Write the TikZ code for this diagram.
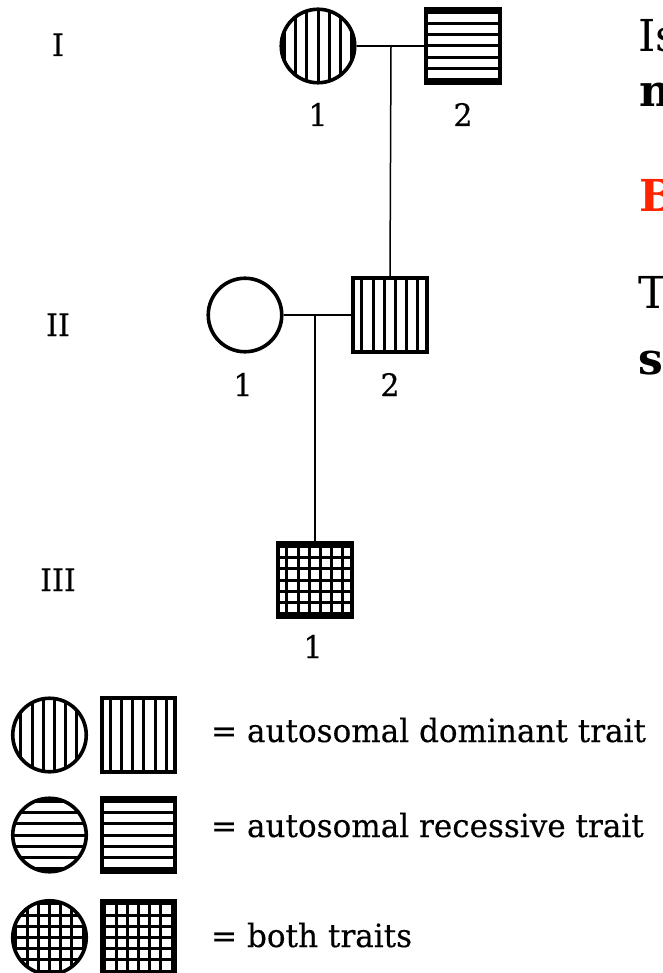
\documentclass[tikz,border=0pt]{standalone}
\usepackage{fontspec}
\setmainfont{DejaVu Serif}
\newfontfamily\pedfont{DejaVu Serif}[FakeBold=0.3, FakeStretch=0.97]
\definecolor{qred}{RGB}{255,36,0}
\newcommand\pedV[1]{\foreach \k in {-4,...,4}{\draw[line width=3pt] ([xshift=\k*11.2pt+#1pt]path picture bounding box.south) -- ([xshift=\k*11.2pt+#1pt]path picture bounding box.north);}}
\newcommand\pedH[1]{\foreach \k in {-4,...,4}{\draw[line width=3pt] ([yshift=\k*11.2pt+#1pt]path picture bounding box.west) -- ([yshift=\k*11.2pt+#1pt]path picture bounding box.east);}}
\tikzset{
  fem/.style={circle, draw, line width=3.6pt, minimum size=73.5pt, inner sep=0pt},
  mal/.style={rectangle, draw, line width=3.6pt, minimum size=73.5pt, inner sep=0pt},
  vh/.style={path picture={\pedV{#1}}},
  hh/.style={path picture={\pedH{#1}}},
  xh/.style 2 args={path picture={\pedV{#1}\pedH{#2}}},
  lbl/.style={anchor=base, inner sep=0pt, font=\pedfont\fontsize{31}{36}\selectfont},
  gen/.style={anchor=base, inner sep=0pt, font=\pedfont\fontsize{31}{36}\selectfont},
  leg/.style={anchor=base west, inner sep=0pt, font=\pedfont\fontsize{32}{36}\selectfont},
  side/.style={anchor=base west, inner sep=0pt, font=\fontsize{44}{50}\selectfont},
  link/.style={line width=1.5pt}
}
\begin{document}
\begin{tikzpicture}[x=1pt,y=-1pt]
\useasboundingbox (0,0) rectangle (662,973);
\clip (0,0) rectangle (662,973);
% generation labels
\node[gen] (gI) at (58,56) {I};
\node[gen] (gII) at (58,336) {II};
\node[gen] (gIII) at (58,591) {III};
% generation I
\node[fem, vh=0] (i1) at (318,46) {};
\node[mal, hh=0] (i2) at (463,46) {};
\node[lbl] (li1) at (318,126) {1};
\node[lbl] (li2) at (463,126) {2};
% generation II
\node[fem] (ii1) at (245,315) {};
\node[mal, vh=5.5] (ii2) at (390,315) {};
\node[lbl] (lii1) at (243,396) {1};
\node[lbl] (lii2) at (390,396) {2};
% generation III
\node[mal, xh={5.5}{0}] (iii1) at (315,580) {};
\node[lbl] (liii1) at (313,658) {1};
% connectors
\coordinate (m1) at (391,46);
\coordinate (m2) at (315,315);
\draw[link] (i1) -- (i2);
\draw[link] (m1) -- (ii2.north);
\draw[link] (ii1) -- (ii2);
\draw[link] (m2) -- (iii1.north);
% legend
\node[fem, vh=5] (lf1) at (49.5,735) {};
\node[mal, vh=5.3] (lm1) at (138.5,735) {};
\node[leg] (t1) at (211,742) {= autosomal dominant trait};
\node[fem, hh=0] (lf2) at (49.5,835) {};
\node[mal, hh=0] (lm2) at (138.5,835) {};
\node[leg] (t2) at (211,837) {= autosomal recessive trait};
\node[fem, xh={0}{0}] (lf3) at (49.5,937.5) {};
\node[mal, xh={0}{0}] (lm3) at (138.5,937.5) {};
\node[leg] (t3) at (211,947) {= both traits};
% right-hand text (cut by the edge, as in the reference)
\node[side] (s1) at (638,52) {Is};
\node[side, font=\fontsize{44}{50}\selectfont\bfseries] (s2) at (639,107) {n};
\node[side, font=\fontsize{44}{50}\selectfont\bfseries, text=qred] (s3) at (639,212) {B};
\node[side] (s4) at (638,308) {T};
\node[side, font=\fontsize{44}{50}\selectfont\bfseries] (s5) at (638,374) {st};
\end{tikzpicture}
\end{document}
